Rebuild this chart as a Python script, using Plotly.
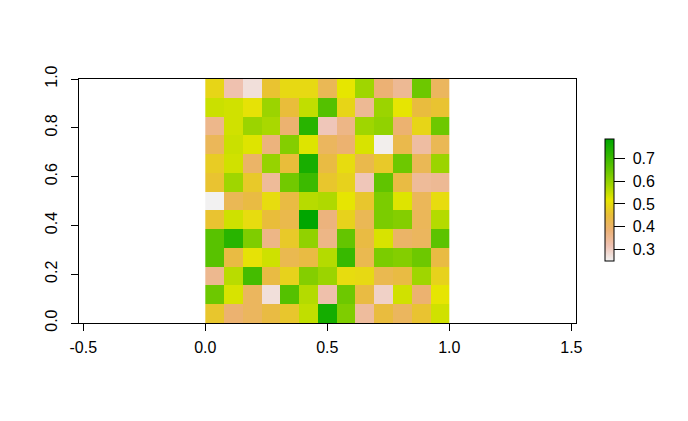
import plotly.graph_objects as go

# Cell values, listed from the top row to the bottom row
row_01 = [.49, .32, .275, .46, .495, .495, .42, .517, .585, .385, .35, .64, .41]
row_02 = [.544, .538, .51, .59, .45, .552, .67, .49, .35, .59, .515, .445, .46]
row_03 = [.36, .538, .59, .575, .39, .725, .31, .365, .585, .60, .39, .49, .64]
row_04 = [.415, .544, .525, .375, .615, .525, .41, .39, .53, .255, .43, .335, .42]
row_05 = [.475, .538, .40, .595, .45, .75, .44, .50, .43, .47, .64, .42, .59]
row_06 = [.46, .585, .47, .345, .635, .70, .465, .485, .31, .655, .44, .345, .35]
row_07 = [.25, .42, .44, .50, .44, .562, .57, .515, .465, .625, .525, .415, .50]
row_08 = [.46, .54, .50, .45, .43, .785, .375, .485, .42, .625, .615, .415, .565]
row_09 = [.665, .725, .62, .365, .47, .60, .365, .65, .44, .53, .40, .41, .66]
row_10 = [.665, .44, .51, .54, .425, .44, .565, .705, .425, .625, .615, .64, .44]
row_11 = [.355, .56, .69, .44, .485, .615, .59, .50, .495, .425, .44, .585, .485]
row_12 = [.64, .53, .41, .275, .67, .565, .325, .64, .44, .295, .538, .39, .515]
row_13 = [.465, .39, .41, .44, .465, .552, .755, .62, .34, .445, .41, .46, .538]
rows_top_down = [row_01, row_02, row_03, row_04, row_05, row_06, row_07,
                 row_08, row_09, row_10, row_11, row_12, row_13]

x_centers = [(i + 0.5) / 13 for i in range(13)]
y_centers = [(i + 0.5) / 13 for i in range(13)]

x_ticks = [-0.5, 0, 0.5, 1, 1.5]
x_labels = ["-0.5", "0.0", "0.5", "1.0", "1.5"]
y_ticks = [0, 0.2, 0.4, 0.6, 0.8, 1]
y_labels = ["0.0", "0.2", "0.4", "0.6", "0.8", "1.0"]
bar_ticks = [0.3, 0.4, 0.5, 0.6, 0.7]
bar_labels = ["\u00a00.3", "\u00a00.4", "\u00a00.5", "\u00a00.6", "\u00a00.7"]

terrain = [[0, "#F2F2F2"], [.125, "#EFC2B3"], [.25, "#ECB176"], [.375, "#E9BD3A"],
           [.5, "#E6E600"], [.625, "#A0D600"], [.75, "#63C500"], [.875, "#2DB600"],
           [1, "#00A600"]]

font = dict(family="Liberation Sans, Arial, sans-serif", size=16, color="black")

fig = go.Figure(go.Heatmap(
    x=x_centers, y=y_centers, z=rows_top_down[::-1],
    zmin=0.249, zmax=0.785, colorscale=terrain, xgap=0, ygap=0,
    colorbar=dict(
        thicknessmode="pixels", thickness=9, lenmode="pixels", len=122,
        x=(605 - 79) / 497, xanchor="left", xpad=0,
        y=0.504, yanchor="middle", ypad=0,
        outlinewidth=1, outlinecolor="black", borderwidth=0,
        tickmode="array", tickvals=bar_ticks, ticktext=bar_labels,
        ticks="outside", ticklen=11, tickwidth=1, tickcolor="black",
        tickfont=font,
    ),
))

axis = dict(showgrid=False, zeroline=False, showline=True, mirror=True,
            linecolor="black", linewidth=1, ticks="outside", ticklen=7,
            tickwidth=1, tickcolor="black", tickfont=font, tickmode="array")

fig.update_layout(
    width=688, height=421, margin=dict(l=79, r=112, t=79, b=98),
    paper_bgcolor="white", plot_bgcolor="white", font=font,
    xaxis=dict(axis, range=[-0.5176, 1.519], tickvals=x_ticks, ticktext=x_labels,
               ticklabelstandoff=3),
    yaxis=dict(axis, range=[0, 1], tickvals=y_ticks, ticktext=y_labels, tickangle=-90,
               ticklabelstandoff=8),
)

fig.write_html("out.html", config={"displayModeBar": False},
               post_script="document.body.style.margin='0';")
